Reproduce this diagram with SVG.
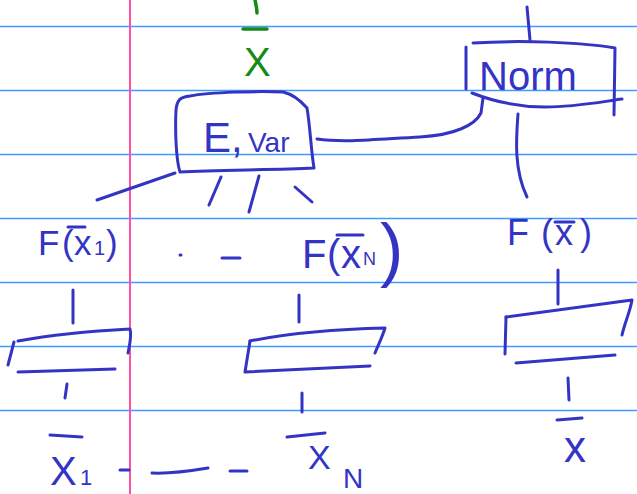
<svg xmlns="http://www.w3.org/2000/svg" width="637" height="494" viewBox="0 0 637 494">
<style>
.rule{stroke:#3d9bff;stroke-width:1.5}
.margin{stroke:#ff4fa8;stroke-width:2}
.ink{fill:none;stroke:#3434c4;stroke-width:3;stroke-linecap:round;stroke-linejoin:round}
.green{fill:none;stroke:#168a16;stroke-width:3.5;stroke-linecap:round}
.t{font-family:"Liberation Sans",Arial,sans-serif;fill:#3434c4}
.tg{font-family:"Liberation Sans",Arial,sans-serif;fill:#168a16}
</style>
<rect width="637" height="494" fill="#fff"/>
<g id="paper">
<line class="rule" x1="0" y1="26.5" x2="637" y2="26.5"/>
<line class="rule" x1="0" y1="90.5" x2="637" y2="90.5"/>
<line class="rule" x1="0" y1="154.5" x2="637" y2="154.5"/>
<line class="rule" x1="0" y1="218.5" x2="637" y2="218.5"/>
<line class="rule" x1="0" y1="282.5" x2="637" y2="282.5"/>
<line class="rule" x1="0" y1="346.5" x2="637" y2="346.5"/>
<line class="rule" x1="0" y1="410.5" x2="637" y2="410.5"/>
<line class="margin" x1="130" y1="0" x2="130" y2="494"/>
</g>
<g id="connectors">
<path class="green" d="M255,0 C256,5 257,9 257,13"/>
<path class="ink" d="M97,200 L175,173"/>
<path class="ink" d="M221,177 L209,205"/>
<path class="ink" d="M259,176 L249,212"/>
<path class="ink" d="M295,187 L312,202"/>
<path class="ink" d="M317,139 C345,143 380,139 420,137 C455,135 475,125 481,113 L483,98"/>
<path class="ink" d="M527,7 L530,40"/>
<path class="ink" d="M518,114 C516,140 514,170 527,197"/>
<path class="ink" d="M73,290 L73,323"/>
<path class="ink" d="M299,295 L299,322"/>
<path class="ink" d="M558,270 L558,304"/>
<path class="ink" d="M67,384 L65,398"/>
<path class="ink" d="M302,393 L302,412"/>
<path class="ink" d="M568,378 L569,400"/>
<path class="ink" d="M120,470 L129,470"/>
<path class="ink" d="M152,473 C170,474 190,471 208,468"/>
<path class="ink" d="M230,471 L247,471"/>
<path class="ink" d="M180,255 L181,255"/>
<path class="ink" d="M222,258 L240,258"/>
</g>
<g id="xbar-top">
<path class="green" d="M243,29 L267,29"/>
<text class="tg" x="244" y="76" font-size="40">X</text>
</g>
<g id="evar">
<path class="ink" d="M190,96 C210,92 260,91 283,92 C292,94 300,100 307,108 C310,125 311,150 314,168 C270,170 220,170 180,172 C176,160 175,130 176,110 C177,100 180,97 190,96"/>
<text class="t" x="203" y="152"><tspan font-size="42">E,</tspan><tspan x="248" font-size="28">Var</tspan></text>
</g>
<g id="norm">
<path class="ink" d="M473,43 C520,40 580,42 615,48 L614,115"/>
<path class="ink" d="M466,47 L466,89"/>
<path class="ink" d="M472,93 C490,100 515,107 545,107 C575,107 600,102 622,99"/>
<text class="t" x="479" y="90" font-size="40">Norm</text>
</g>
<g id="fx1">
<path class="ink" d="M68,227 L85,227"/>
<text class="t" y="255" font-size="35"><tspan x="38">F</tspan><tspan x="62">(</tspan><tspan x="74">x</tspan><tspan x="94" font-size="20">1</tspan><tspan x="106">)</tspan></text>
</g>
<g id="fxn">
<path class="ink" d="M337,235 L363,235"/>
<text class="t" y="268" font-size="40"><tspan x="302">F</tspan><tspan x="327">(</tspan><tspan x="341">x</tspan><tspan x="363" y="265" font-size="18">N</tspan><tspan x="380" y="273" font-size="70">)</tspan></text>
</g>
<g id="fx">
<path class="ink" d="M555,222 L574,222"/>
<text class="t" y="245" font-size="36"><tspan x="507">F</tspan><tspan x="541">(</tspan><tspan x="555">x</tspan><tspan x="580">)</tspan></text>
</g>
<g id="box1">
<path class="ink" d="M18,341 C50,335 90,331 130,329 C132,335 130,343 128,353"/>
<path class="ink" d="M14,342 L8,365"/>
<path class="ink" d="M18,372 L115,369"/>
</g>
<g id="boxn">
<path class="ink" d="M250,341 C290,333 340,329 385,328 C382,338 378,345 375,353"/>
<path class="ink" d="M250,341 L245,372 L370,366"/>
</g>
<g id="boxr">
<path class="ink" d="M506,317 L632,300 C630,312 625,322 622,335"/>
<path class="ink" d="M506,317 L505,354"/>
<path class="ink" d="M516,363 L615,355"/>
</g>
<g id="x1">
<path class="ink" d="M50,435 L82,437"/>
<text class="t" x="50" y="485" font-size="40">X</text>
<text class="t" x="80" y="485" font-size="22">1</text>
</g>
<g id="xn">
<path class="ink" d="M287,437 L325,433"/>
<text class="t" x="308" y="469" font-size="34">X</text>
<text class="t" x="343" y="488" font-size="28">N</text>
</g>
<g id="xr">
<path class="ink" d="M557,420 L582,418"/>
<text class="t" x="564" y="462" font-size="44">x</text>
</g>
</svg>
